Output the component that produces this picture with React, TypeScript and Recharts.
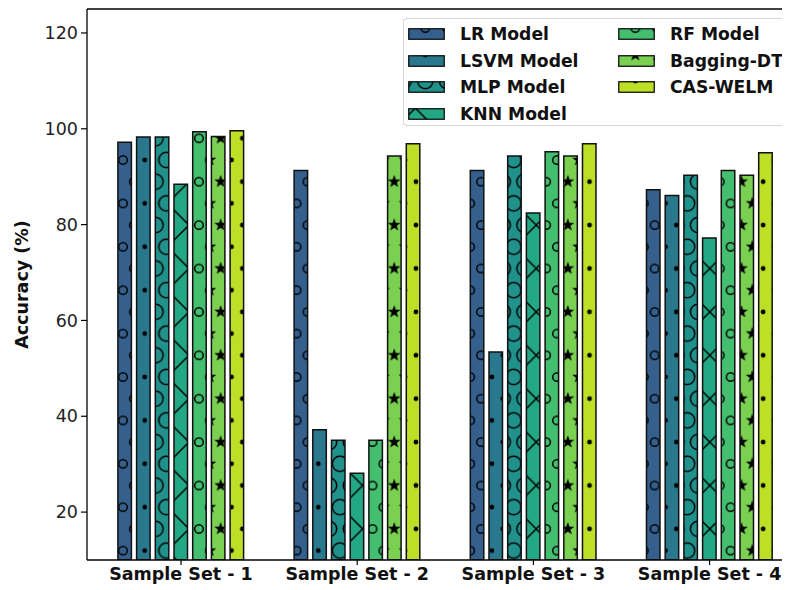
import { BarChart, Bar, XAxis, YAxis, Legend, ReferenceLine } from "recharts";

const sampleSets = ["Sample Set - 1", "Sample Set - 2", "Sample Set - 3", "Sample Set - 4"];
const lrModel = [97.2, 91.3, 91.3, 87.3];
const lsvmModel = [98.3, 37.2, 53.4, 86.1];
const mlpModel = [98.3, 35, 94.3, 90.3];
const knnModel = [88.4, 28.1, 82.4, 77.2];
const rfModel = [99.4, 35, 95.2, 91.3];
const baggingDt = [98.4, 94.3, 94.3, 90.3];
const casWelm = [99.6, 96.9, 96.9, 95];
const yTicks = [20, 40, 60, 80, 100, 120];

const models = [
  { key: "lr", name: "LR Model", color: "#35608d", values: lrModel, hatch: "o" },
  { key: "lsvm", name: "LSVM Model", color: "#2a788e", values: lsvmModel, hatch: "." },
  { key: "mlp", name: "MLP Model", color: "#21918c", values: mlpModel, hatch: "O" },
  { key: "knn", name: "KNN Model", color: "#22a884", values: knnModel, hatch: "x" },
  { key: "rf", name: "RF Model", color: "#44bf70", values: rfModel, hatch: "o" },
  { key: "bag", name: "Bagging-DT", color: "#7ad151", values: baggingDt, hatch: "*" },
  { key: "cas", name: "CAS-WELM", color: "#bddf26", values: casWelm, hatch: "." },
];

const data = sampleSets.map((label, i) => {
  const row: Record<string, number | string> = { pos: i, label };
  models.forEach((m) => (row[m.key] = m.values[i]));
  return row;
});

const X_DOMAIN = [-0.5335, 3.428];
const Y_DOMAIN = [10, 125];
const FONT = "'DejaVu Sans', sans-serif";
const FRAME = { stroke: "#000", strokeWidth: 1.3 };

// hatch grid, shared origin like matplotlib
const S = 21.7;
const HX = 115;
const HY = 152;

const starPath = (cx: number, cy: number, R: number) => {
  const pts: string[] = [];
  for (let k = 0; k < 10; k++) {
    const r = k % 2 === 0 ? R : R * 0.4;
    const a = -Math.PI / 2 + (k * Math.PI) / 5;
    pts.push(`${(cx + r * Math.cos(a)).toFixed(2)},${(cy + r * Math.sin(a)).toFixed(2)}`);
  }
  return `M${pts.join("L")}Z`;
};

const spots = [
  [0, 0],
  [S, 0],
  [0, 2 * S],
  [S, 2 * S],
  [S / 2, S],
];

const Hatch = ({ id, color, kind }: { id: string; color: string; kind: string }) => {
  if (kind === "x") {
    const T = 2 * S;
    return (
      <pattern id={id} patternUnits="userSpaceOnUse" x={HX + 9 * T - 8 * S + 0.9} y={HY} width={T} height={T}>
        <rect width={T} height={T} fill={color} />
        <path d={`M0,0L${T},${T}M${T},0L0,${T}`} stroke="#000" strokeWidth={1.5} />
      </pattern>
    );
  }
  return (
    <pattern id={id} patternUnits="userSpaceOnUse" x={HX} y={HY} width={S} height={2 * S}>
      <rect width={S} height={2 * S} fill={color} />
      {spots.map(([cx, cy], i) => {
        if (kind === "o") return <circle key={i} cx={cx} cy={cy} r={4.3} fill="none" stroke="#000" strokeWidth={1.5} />;
        if (kind === "O") return <circle key={i} cx={cx} cy={cy} r={7.6} fill="none" stroke="#000" strokeWidth={1.5} />;
        if (kind === ".") return <circle key={i} cx={cx} cy={cy} r={2.4} fill="#000" />;
        return <path key={i} d={starPath(cx, cy, 6.8)} fill="#000" />;
      })}
    </pattern>
  );
};

const LegendBox = () => (
  <div
    style={{
      width: 380,
      height: 108,
      boxSizing: "border-box",
      border: "1px solid #d6d6d6",
      borderRight: "none",
      borderRadius: "4px 0 0 4px",
      background: "rgba(255,255,255,0.85)",
      position: "relative",
      fontFamily: FONT,
      fontWeight: "bold",
      fontSize: 17.2,
      color: "#111",
    }}
  >
    {models.map((m, i) => {
      const col = i < 4 ? 0 : 1;
      const row = i < 4 ? i : i - 4;
      return (
        <div
          key={m.key}
          style={{
            position: "absolute",
            left: col ? 214 : 4,
            top: 4 + row * 26.7,
            height: 22,
            display: "flex",
            alignItems: "center",
            whiteSpace: "nowrap",
          }}
        >
          <svg width={37} height={12} style={{ marginRight: 15 }}>
            <rect x={0.75} y={0.75} width={35.5} height={10.5} fill={`url(#hatch-${m.key})`} stroke="#111" strokeWidth={1.3} />
          </svg>
          <span>{m.name}</span>
        </div>
      );
    })}
  </div>
);

const YLabel = ({ viewBox }: any) => {
  const cy = viewBox.y + viewBox.height / 2;
  return (
    <text
      x={14}
      y={cy}
      transform={`rotate(-90, 14, ${cy})`}
      textAnchor="middle"
      dominantBaseline="central"
      fontFamily={FONT}
      fontWeight="bold"
      fontSize={17.5}
      fill="#111"
    >
      Accuracy (%)
    </text>
  );
};

export default function App() {
  return (
    <BarChart
      width={782}
      height={580}
      data={data}
      margin={{ top: 1, right: 5, bottom: 0, left: 0 }}
      barSize={13.5}
      barGap={5.2}
    >
      <defs>
        {models.map((m) => (
          <Hatch key={m.key} id={`hatch-${m.key}`} color={m.color} kind={m.hatch} />
        ))}
      </defs>
      <XAxis
        type="number"
        dataKey="pos"
        domain={X_DOMAIN}
        allowDataOverflow
        ticks={[0, 1, 2, 3]}
        tickFormatter={(v) => sampleSets[v]}
        height={28}
        axisLine={FRAME}
        tickLine={{ stroke: "#000", strokeWidth: 1.2 }}
        tickSize={5}
        tickMargin={3}
        tick={{ fill: "#111", fontSize: 17.5, fontFamily: FONT, fontWeight: "bold" }}
      />
      <YAxis
        type="number"
        domain={Y_DOMAIN}
        allowDataOverflow
        ticks={yTicks}
        width={79}
        axisLine={FRAME}
        tickLine={{ stroke: "#000", strokeWidth: 1.2 }}
        tickSize={6}
        tickMargin={3}
        tick={{ fill: "#222", fontSize: 17.5, fontFamily: FONT }}
        label={{ content: YLabel }}
      />
      {models.map((m) => (
        <Bar
          key={m.key}
          dataKey={m.key}
          name={m.name}
          fill={`url(#hatch-${m.key})`}
          stroke="#111"
          strokeWidth={1.5}
          isAnimationActive={false}
        />
      ))}
      <ReferenceLine y={Y_DOMAIN[1]} stroke="#000" strokeWidth={1.3} ifOverflow="visible" />
      <ReferenceLine x={X_DOMAIN[1]} stroke="#000" strokeWidth={1.3} ifOverflow="visible" />
      <Legend
        verticalAlign="middle"
        layout="horizontal"
        content={LegendBox}
        wrapperStyle={{ position: "absolute", left: 395, top: 10, width: 380, height: 108 }}
      />
    </BarChart>
  );
}
